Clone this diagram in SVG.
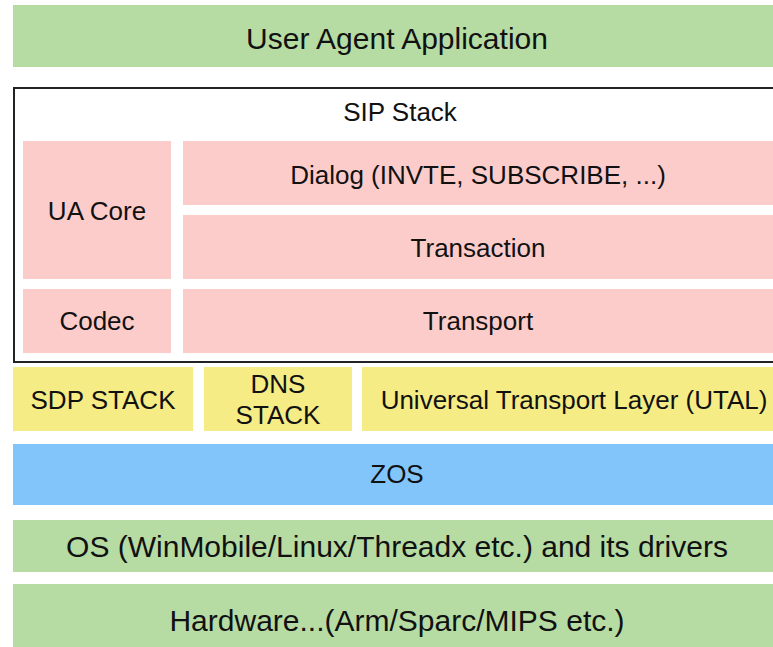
<svg xmlns="http://www.w3.org/2000/svg" width="773" height="647" viewBox="0 0 773 647">
  <style>
    text { font-family: "Liberation Sans", Arial, sans-serif; font-size: 26px; fill: #111; text-anchor: middle; }
    .big { font-size: 30px; }
    .green { fill: #b6dca4; }
    .pink { fill: #fccccb; }
    .yellow { fill: #f5ec86; }
    .blue { fill: #82c5fb; }
  </style>
  <rect width="773" height="647" fill="#ffffff"/>

  <g id="user-agent-application">
    <rect class="green" x="13" y="5" width="770" height="62"/>
    <text class="big" x="397" y="49">User Agent Application</text>
  </g>

  <g id="sip-stack">
    <rect x="14" y="88" width="775" height="274" fill="#ffffff" stroke="#222" stroke-width="2"/>
    <text x="400" y="121">SIP Stack</text>
  </g>

  <g id="ua-core">
    <rect class="pink" x="23" y="141" width="148" height="138"/>
    <text x="97" y="220">UA Core</text>
  </g>

  <g id="dialog">
    <rect class="pink" x="183" y="141" width="600" height="64"/>
    <text x="478" y="184">Dialog (INVTE, SUBSCRIBE, ...)</text>
  </g>

  <g id="transaction">
    <rect class="pink" x="183" y="215" width="600" height="64"/>
    <text x="478" y="257">Transaction</text>
  </g>

  <g id="codec">
    <rect class="pink" x="23" y="289" width="148" height="64"/>
    <text x="97" y="330">Codec</text>
  </g>

  <g id="transport">
    <rect class="pink" x="183" y="289" width="600" height="64"/>
    <text x="478" y="330">Transport</text>
  </g>

  <g id="sdp-stack">
    <rect class="yellow" x="13" y="367" width="180" height="64"/>
    <text x="103" y="409">SDP STACK</text>
  </g>

  <g id="dns-stack">
    <rect class="yellow" x="204" y="367" width="148" height="64"/>
    <text x="278" y="393">DNS</text>
    <text x="278" y="424">STACK</text>
  </g>

  <g id="utal">
    <rect class="yellow" x="362" y="367" width="425" height="64"/>
    <text x="574" y="409">Universal Transport Layer (UTAL)</text>
  </g>

  <g id="zos">
    <rect class="blue" x="13" y="444" width="770" height="61"/>
    <text x="397" y="483">ZOS</text>
  </g>

  <g id="os">
    <rect class="green" x="13" y="520" width="770" height="52"/>
    <text class="big" x="397" y="557">OS (WinMobile/Linux/Threadx etc.) and its drivers</text>
  </g>

  <g id="hardware">
    <rect class="green" x="13" y="584" width="770" height="70"/>
    <text class="big" x="397" y="631">Hardware...(Arm/Sparc/MIPS etc.)</text>
  </g>

  <g id="connectors"/>
</svg>
